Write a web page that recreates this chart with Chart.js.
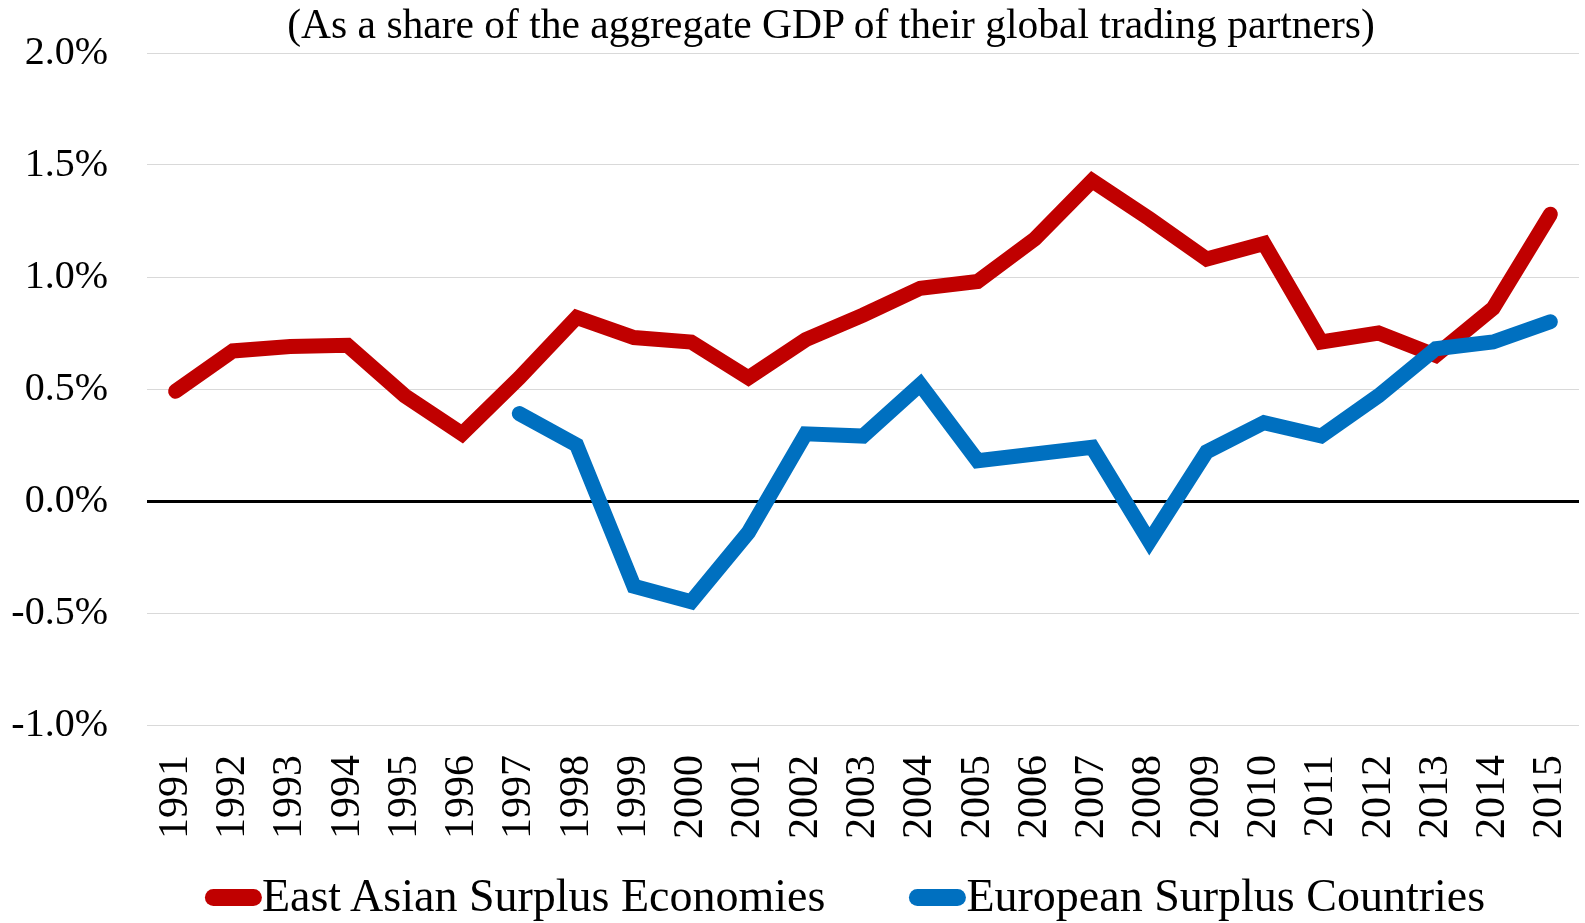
<!DOCTYPE html>
<html>
<head>
<meta charset="utf-8">
<script src="https://cdn.jsdelivr.net/npm/chart.js@4.4.1/dist/chart.umd.min.js"></script>
<style>
  html, body { margin: 0; padding: 0; background: #fff; }
  #wrap { position: relative; width: 1585px; height: 923px; overflow: hidden; }
  #c { position: absolute; left: 0; top: 0; }
  .title { position: absolute; top: 4px; left: 831px; transform: translateX(-50%); white-space: nowrap;
           font-family: 'Liberation Serif', serif; font-size: 41.5px; line-height: 41.5px; color: #000; }
  .legend { position: absolute; top: 873px; left: 845px; transform: translateX(-50%); display: flex; align-items: center;
            white-space: nowrap; font-family: 'Liberation Serif', serif; font-size: 46px; line-height: 46px; color: #000; }
  .item { display: flex; align-items: center; }
  .item + .item { margin-left: 84px; }
  .mark { width: 57px; height: 17px; border-radius: 8.5px; margin-top: 2px; }
</style>
</head>
<body>
<div id="wrap">
  <canvas id="c" width="1585" height="923"></canvas>
  <div class="title" id="title"></div>
  <div class="legend" id="legend"></div>
</div>
<script>
const titleText = '(As a share of the aggregate GDP of their global trading partners)';
const years = ['1991','1992','1993','1994','1995','1996','1997','1998','1999','2000','2001','2002','2003',
               '2004','2005','2006','2007','2008','2009','2010','2011','2012','2013','2014','2015'];
const eastAsianLabel = 'East Asian Surplus Economies';
const eastAsian = [0.49, 0.67, 0.69, 0.695, 0.47, 0.30, 0.55, 0.82, 0.73, 0.71, 0.55, 0.72, 0.83,
                   0.95, 0.98, 1.17, 1.43, 1.26, 1.08, 1.15, 0.71, 0.75, 0.65, 0.86, 1.28];
const europeanLabel = 'European Surplus Countries';
const european = [null, null, null, null, null, null, 0.39, 0.25, -0.38, -0.45, -0.14, 0.30, 0.29,
                  0.52, 0.18, 0.21, 0.24, -0.18, 0.22, 0.35, 0.29, 0.47, 0.68, 0.71, 0.80];
const yMin = -1.0, yMax = 2.0, yStep = 0.5;

const RED = '#C00000', BLUE = '#0070C0';

document.getElementById('title').textContent = titleText;

const series = [
  { label: eastAsianLabel, data: eastAsian, color: RED, order: 1 },
  { label: europeanLabel, data: european, color: BLUE, order: 0 }
];

const leg = document.getElementById('legend');
series.forEach(s => {
  const it = document.createElement('div'); it.className = 'item';
  const m = document.createElement('div'); m.className = 'mark'; m.style.background = s.color;
  const t = document.createElement('span'); t.textContent = s.label;
  it.appendChild(m); it.appendChild(t); leg.appendChild(it);
});

Chart.defaults.font.family = "'Liberation Serif', serif";
Chart.defaults.color = '#000';

new Chart(document.getElementById('c'), {
  type: 'line',
  data: {
    labels: years,
    datasets: series.map(s => ({
      label: s.label,
      data: s.data,
      borderColor: s.color,
      backgroundColor: s.color,
      borderWidth: 15,
      borderCapStyle: 'round',
      borderJoinStyle: 'miter',
      pointRadius: 0,
      pointHoverRadius: 0,
      tension: 0,
      fill: false,
      spanGaps: false,
      order: s.order
    }))
  },
  options: {
    responsive: false,
    animation: false,
    events: [],
    layout: { padding: { top: 53, left: 0, right: 6, bottom: 78 } },
    plugins: { legend: { display: false }, title: { display: false }, tooltip: { enabled: false } },
    scales: {
      x: {
        offset: true,
        grid: { display: false, drawTicks: false },
        border: { display: false },
        ticks: { maxRotation: 90, minRotation: 90, padding: 30, autoSkip: false, font: { size: 42 } },
        afterFit: (s) => { s.height = 120; s.paddingLeft = 0; s.paddingRight = 0; }
      },
      y: {
        min: yMin, max: yMax,
        grid: {
          drawTicks: false,
          color: (ctx) => (ctx.tick && ctx.tick.value === 0) ? '#000000' : '#D9D9D9',
          lineWidth: (ctx) => (ctx.tick && ctx.tick.value === 0) ? 3 : 1
        },
        border: { display: false },
        ticks: {
          stepSize: yStep, padding: 39, font: { size: 40 },
          callback: (v) => v.toFixed(1) + '%'
        },
        afterFit: (s) => { s.width = 147; s.paddingTop = 0; s.paddingBottom = 0; }
      }
    }
  }
});
</script>
</body>
</html>
